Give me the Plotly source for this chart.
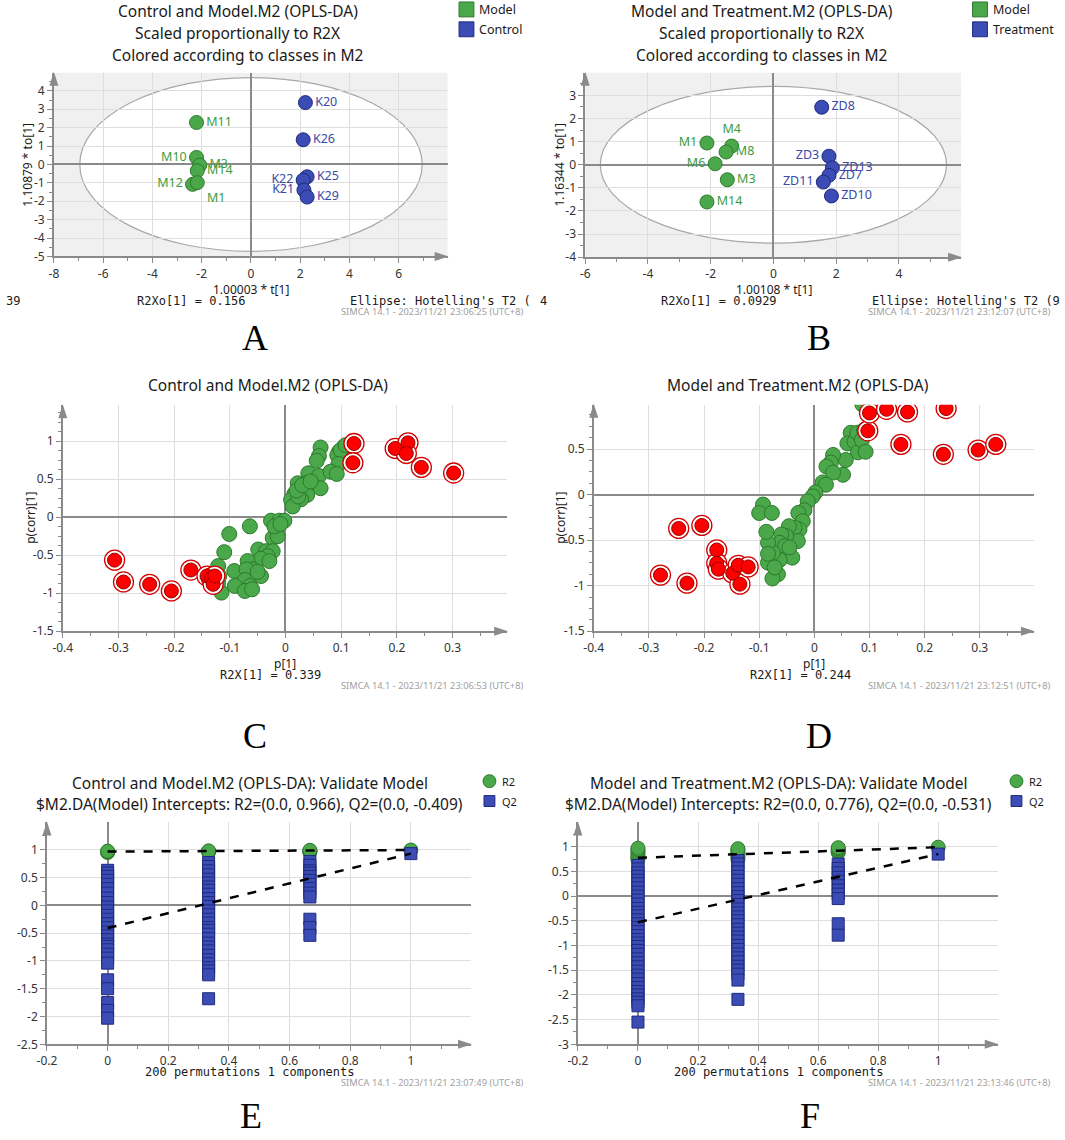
import plotly.graph_objects as go

W, H = 1065, 1140

# ---------------- data ----------------
a_model_names = ["M11", "M10", "M3", "M14", "M12", "M1"]
a_model_t = [-2.21, -2.21, -2.08, -2.18, -2.37, -2.18]
a_model_to = [2.28, 0.38, -0.04, -0.34, -1.08, -0.99]
a_control_names = ["K20", "K26", "K25", "K22", "K21", "K29"]
a_control_t = [2.21, 2.12, 2.28, 2.12, 2.15, 2.28]
a_control_to = [3.36, 1.34, -0.67, -0.85, -1.39, -1.77]
a_ellipse_t = 6.95
a_ellipse_to = 4.72

b_model_names = ["M1", "M4", "M8", "M6", "M3", "M14"]
b_model_t = [-2.12, -1.33, -1.51, -1.86, -1.47, -2.12]
b_model_to = [0.94, 0.81, 0.55, 0.04, -0.65, -1.61]
b_treat_names = ["ZD8", "ZD3", "ZD13", "ZD7", "ZD11", "ZD10"]
b_treat_t = [1.54, 1.77, 1.88, 1.77, 1.59, 1.85]
b_treat_to = [2.49, 0.37, -0.13, -0.46, -0.75, -1.35]
b_ellipse_t = 5.52
b_ellipse_to = 3.39

c_green_p = [0.063, 0.060, 0.056, 0.041, 0.060, 0.063, 0.036, 0.028, 0.022, 0.036,
             0.039, 0.028, 0.016, 0.010, 0.013, 0.023, 0.020, 0.105, 0.096, 0.093,
             0.099, 0.095, 0.081, 0.092, 0.108, -0.026, -0.011, -0.002, -0.017, -0.023,
             -0.014, -0.020, -0.064, -0.101, -0.110, -0.049, -0.035, -0.023, -0.032, -0.044,
             -0.029, -0.068, -0.058, -0.092, -0.121, -0.070, -0.044, -0.073, -0.064, -0.091,
             -0.073, -0.060, -0.115, -0.121, -0.119, -0.050, -0.009, 0.030, 0.045]
c_green_pcorr = [0.917, 0.804, 0.742, 0.577, 0.542, 0.381, 0.446, 0.403, 0.446, 0.359,
                 0.294, 0.237, 0.307, 0.229, 0.141, 0.272, 0.350, 0.925, 0.860, 0.817,
                 0.882, 0.699, 0.599, 0.569, 0.947, -0.046, -0.046, -0.046, -0.164, -0.273,
                 -0.251, -0.120, -0.120, -0.221, -0.460, -0.425, -0.447, -0.447, -0.512, -0.547,
                 -0.577, -0.577, -0.686, -0.708, -0.643, -0.686, -0.774, -0.826, -0.904, -0.904,
                 -0.970, -0.948, -0.992, -0.861, -0.774, -0.720, -0.090, 0.420, 0.470]
c_red_p = [-0.307, -0.291, -0.244, -0.205, -0.170, -0.141, -0.133, -0.130, -0.127,
           0.123, 0.121, 0.197, 0.220, 0.217, 0.244, 0.302]
c_red_pcorr = [-0.565, -0.852, -0.883, -0.970, -0.695, -0.774, -0.800, -0.883, -0.774,
               0.969, 0.716, 0.904, 0.978, 0.838, 0.655, 0.581]

d_green_p = [0.087, 0.066, 0.060, 0.073, 0.078, 0.090, 0.079, 0.057, 0.052, 0.034,
             0.030, 0.022, 0.034, 0.015, 0.021, 0.002, -0.003, -0.012, -0.018, -0.029,
             -0.021, -0.027, -0.036, -0.046, -0.030, -0.051, -0.060, -0.063, -0.053, -0.045,
             -0.040, -0.063, -0.075, -0.084, -0.087, -0.093, -0.100, -0.077, -0.084, -0.066,
             -0.076, -0.084, -0.045, -0.072, 0.086, 0.093]
d_green_pcorr = [0.990, 0.678, 0.562, 0.580, 0.678, 0.708, 0.464, 0.380, 0.217, 0.435,
                 0.351, 0.308, 0.242, 0.133, 0.108, 0.024, -0.020, -0.074, -0.172, -0.202,
                 -0.292, -0.383, -0.365, -0.347, -0.510, -0.456, -0.438, -0.529, -0.565, -0.674,
                 -0.692, -0.718, -0.638, -0.529, -0.409, -0.110, -0.202, -0.202, -0.747, -0.874,
                 -0.921, -0.650, -0.580, -0.800, 0.600, 0.470]
d_red_p = [-0.279, -0.246, -0.231, -0.204, -0.177, -0.177, -0.174, -0.148, -0.138, -0.135,
           -0.120, 0.097, 0.100, 0.131, 0.169, 0.239, 0.157, 0.234, 0.297, 0.329]
d_red_pcorr = [-0.884, -0.372, -0.972, -0.339, -0.608, -0.754, -0.819, -0.863, -0.776, -0.983,
               -0.794, 0.700, 0.896, 0.936, 0.907, 0.944, 0.551, 0.442, 0.489, 0.551]

perm_x = [0.0, 0.333, 0.667, 1.0]
e_r2_c0 = [0.95, 0.96, 0.975]
e_r2_c1 = [0.96, 0.97, 0.98]
e_r2_c2 = [0.96, 0.97, 0.98, 0.99]
e_r2_c3 = [0.995]
e_q2_c0 = [0.63, 0.58, 0.52, 0.45, 0.38, 0.30, 0.22, 0.13, 0.05, -0.03, -0.10, -0.18,
           -0.25, -0.33, -0.40, -0.48, -0.55, -0.62, -0.70, -0.74, -0.80, -0.88, -0.95,
           -1.04, -1.34, -1.50, -1.75, -1.89, -2.03]
e_q2_c1 = [0.77, 0.70, 0.62, 0.55, 0.47, 0.40, 0.33, 0.27, 0.20, 0.12, 0.05, -0.02,
           -0.10, -0.17, -0.25, -0.32, -0.40, -0.45, -0.52, -0.60, -0.68, -0.75, -0.82,
           -0.90, -0.98, -1.05, -1.12, -1.18, -1.25, -1.68]
e_q2_c2 = [0.79, 0.72, 0.62, 0.58, 0.52, 0.45, 0.38, 0.30, 0.22, 0.15, -0.25, -0.40, -0.54]
e_q2_c3 = [0.93]
e_r2_intercept = 0.966
e_q2_intercept = -0.409

f_r2_c0 = [0.74, 0.77, 0.81, 0.86, 0.90, 0.94, 0.97]
f_r2_c1 = [0.75, 0.80, 0.85, 0.89, 0.93, 0.96]
f_r2_c2 = [0.88, 0.90, 0.93, 0.96, 0.98]
f_r2_c3 = [0.99]
f_q2_c0 = [0.62, 0.55, 0.47, 0.40, 0.32, 0.25, 0.17, 0.08, 0.00, -0.08, -0.16, -0.25,
           -0.33, -0.40, -0.48, -0.56, -0.64, -0.72, -0.80, -0.88, -0.95, -1.02, -1.10,
           -1.18, -1.27, -1.35, -1.43, -1.52, -1.60, -1.68, -1.77, -1.85, -1.93, -2.00,
           -2.08, -2.15, -2.22, -2.55]
f_q2_c1 = [0.72, 0.65, 0.57, 0.49, 0.40, 0.32, 0.24, 0.15, 0.07, -0.01, -0.09, -0.17,
           -0.26, -0.34, -0.42, -0.50, -0.58, -0.67, -0.75, -0.83, -0.91, -1.00, -1.08,
           -1.17, -1.25, -1.33, -1.42, -1.50, -1.58, -1.70, -2.09]
f_q2_c2 = [0.65, 0.56, 0.47, 0.38, 0.30, 0.21, 0.12, 0.04, -0.05, -0.56, -0.79]
f_q2_c3 = [0.85]
f_r2_intercept = 0.776
f_q2_intercept = -0.531

a_xticks = [-8, -6, -4, -2, 0, 2, 4, 6]
a_yticks = [-5, -4, -3, -2, -1, 0, 1, 2, 3, 4]
b_xticks = [-6, -4, -2, 0, 2, 4]
b_yticks = [-4, -3, -2, -1, 0, 1, 2, 3]
s_xticks = [-0.4, -0.3, -0.2, -0.1, 0, 0.1, 0.2, 0.3]
c_yticks = [-1.5, -1, -0.5, 0, 0.5, 1]
d_yticks = [-1.5, -1, -0.5, 0, 0.5]
p_xticks = [-0.2, 0, 0.2, 0.4, 0.6, 0.8, 1]
e_yticks = [-2.5, -2, -1.5, -1, -0.5, 0, 0.5, 1]
f_yticks = [-3, -2.5, -2, -1.5, -1, -0.5, 0, 0.5, 1]

# ---------------- style ----------------
FONT = "Noto Sans"
MONO = "DejaVu Sans Mono"
SERIF = "Liberation Serif"
AXC = "#8a8a8a"
GRID = "#dedede"
GREEN, GREEN_EDGE, GREEN_TXT = "#4aa84a", "#2d7a2d", "#3e9b3e"
BLUE, BLUE_EDGE, BLUE_TXT = "#3b4db4", "#1f2a7e", "#3b4aa6"
RED, RED_EDGE = "#ff0000", "#9a0000"


def px(x):
    return x / W


def py(y):
    return 1 - y / H


def dom_x(a, b):
    return [a / W, b / W]


def dom_y(top, bottom):
    return [1 - bottom / H, 1 - top / H]


def axis(domain, rng, tickvals, minor, anchor):
    return dict(
        domain=domain, range=rng, anchor=anchor,
        tickmode="array", tickvals=tickvals, ticktext=[f"{v:g}" for v in tickvals],
        showline=True, linecolor=AXC, linewidth=1.5,
        ticks="outside", ticklen=5, tickcolor=AXC, tickwidth=1,
        minor=dict(dtick=minor, tick0=0, ticklen=3, tickcolor=AXC, ticks="outside", showgrid=False),
        showgrid=True, gridcolor=GRID, gridwidth=1,
        zeroline=True, zerolinecolor=AXC, zerolinewidth=1.5,
        tickfont=dict(family=FONT, size=12, color="#333333"),
        fixedrange=True,
    )


PANELS = {
    "A": dict(x=(44.3, 441.7), y=(73.3, 258.3), xr=[-8, 7.98], yr=[-5, 4.98]),
    "B": dict(x=(580.7, 960.0), y=(73.3, 259.0), xr=[-6, 5.98], yr=[-4, 3.98]),
    "C": dict(x=(53.3, 501.8), y=(408.3, 635.7), xr=[-0.4, 0.398], yr=[-1.5, 1.47]),
    "D": dict(x=(589.3, 1033.5), y=(407.7, 635.7), xr=[-0.4, 0.398], yr=[-1.5, 0.985]),
    "E": dict(x=(37.3, 465.3), y=(828.3, 1051.7), xr=[-0.2, 1.198], yr=[-2.5, 1.49]),
    "F": dict(x=(573.3, 997.0), y=(828.3, 1051.7), xr=[-0.2, 1.198], yr=[-3, 1.49]),
}

fig = go.Figure()


def green_markers(size=14):
    return dict(size=size, color=GREEN, line=dict(color=GREEN_EDGE, width=1))


def blue_markers(size=14, symbol="circle"):
    return dict(size=size, color=BLUE, symbol=symbol, line=dict(color=BLUE_EDGE, width=1))


LBL = 12.5
fig.add_trace(go.Scatter(
    x=a_model_t, y=a_model_to, mode="markers+text", text=a_model_names,
    textposition=["middle right", "middle left", "middle right", "middle right", "middle left", "bottom right"],
    textfont=dict(family=FONT, size=LBL, color=GREEN_TXT),
    marker=green_markers(), xaxis="x", yaxis="y", hoverinfo="skip"))
fig.add_trace(go.Scatter(
    x=a_control_t, y=a_control_to, mode="markers+text", text=a_control_names,
    textposition=["middle right", "middle right", "middle right", "middle left", "middle left", "middle right"],
    textfont=dict(family=FONT, size=LBL, color=BLUE_TXT),
    marker=blue_markers(), xaxis="x", yaxis="y", hoverinfo="skip"))

fig.add_trace(go.Scatter(
    x=b_model_t, y=b_model_to, mode="markers+text", text=b_model_names,
    textposition=["middle left", "top center", "middle right", "middle left", "middle right", "middle right"],
    textfont=dict(family=FONT, size=LBL, color=GREEN_TXT),
    marker=green_markers(), xaxis="x2", yaxis="y2", hoverinfo="skip"))
fig.add_trace(go.Scatter(
    x=b_treat_t, y=b_treat_to, mode="markers+text", text=b_treat_names,
    textposition=["middle right", "middle left", "middle right", "middle right", "middle left", "middle right"],
    textfont=dict(family=FONT, size=LBL, color=BLUE_TXT),
    marker=blue_markers(), xaxis="x2", yaxis="y2", hoverinfo="skip"))

for gx, gy, rx, ry, xa, ya in [(c_green_p, c_green_pcorr, c_red_p, c_red_pcorr, "x3", "y3"),
                               (d_green_p, d_green_pcorr, d_red_p, d_red_pcorr, "x4", "y4")]:
    fig.add_trace(go.Scatter(x=gx, y=gy, mode="markers", marker=green_markers(15),
                             xaxis=xa, yaxis=ya, hoverinfo="skip"))
    fig.add_trace(go.Scatter(x=rx, y=ry, mode="markers",
                             marker=dict(size=20, color="white", line=dict(color="#d40000", width=1.3)),
                             xaxis=xa, yaxis=ya, hoverinfo="skip"))
    fig.add_trace(go.Scatter(x=rx, y=ry, mode="markers",
                             marker=dict(size=14, color=RED, line=dict(color=RED_EDGE, width=1)),
                             xaxis=xa, yaxis=ya, hoverinfo="skip"))

for r2cols, q2cols, r2i, q2i, xa, ya in [
        ([e_r2_c0, e_r2_c1, e_r2_c2, e_r2_c3], [e_q2_c0, e_q2_c1, e_q2_c2, e_q2_c3],
         e_r2_intercept, e_q2_intercept, "x5", "y5"),
        ([f_r2_c0, f_r2_c1, f_r2_c2, f_r2_c3], [f_q2_c0, f_q2_c1, f_q2_c2, f_q2_c3],
         f_r2_intercept, f_q2_intercept, "x6", "y6")]:
    r2x, r2y, q2x, q2y = [], [], [], []
    for xv, col in zip(perm_x, r2cols):
        r2x += [xv] * len(col)
        r2y += col
    for xv, col in zip(perm_x, q2cols):
        q2x += [xv] * len(col)
        q2y += col
    fig.add_trace(go.Scatter(x=r2x, y=r2y, mode="markers", marker=green_markers(14),
                             xaxis=xa, yaxis=ya, hoverinfo="skip"))
    fig.add_trace(go.Scatter(x=q2x, y=q2y, mode="markers", marker=blue_markers(12, "square"),
                             xaxis=xa, yaxis=ya, hoverinfo="skip"))
    fig.add_trace(go.Scatter(x=[perm_x[0], perm_x[-1]], y=[r2i, r2cols[-1][0]], mode="lines",
                             line=dict(color="black", width=2.5, dash="dash"),
                             xaxis=xa, yaxis=ya, hoverinfo="skip"))
    fig.add_trace(go.Scatter(x=[perm_x[0], perm_x[-1]], y=[q2i, q2cols[-1][0]], mode="lines",
                             line=dict(color="black", width=2.5, dash="dash"),
                             xaxis=xa, yaxis=ya, hoverinfo="skip"))

layout = dict(width=W, height=H, margin=dict(l=0, r=0, t=0, b=0), showlegend=False,
              paper_bgcolor="white", plot_bgcolor="white")
minors = {"A": (1, 0.5), "B": (1, 0.5), "C": (0.05, 0.125), "D": (0.05, 0.125),
          "E": (0.1, 0.25), "F": (0.1, 0.25)}
ticks = {"A": (a_xticks, a_yticks), "B": (b_xticks, b_yticks), "C": (s_xticks, c_yticks),
         "D": (s_xticks, d_yticks), "E": (p_xticks, e_yticks), "F": (p_xticks, f_yticks)}
for i, key in enumerate("ABCDEF"):
    p = PANELS[key]
    sfx = "" if i == 0 else str(i + 1)
    layout["xaxis" + sfx] = axis(dom_x(*p["x"]), p["xr"], ticks[key][0], minors[key][0], "y" + sfx)
    layout["yaxis" + sfx] = axis(dom_y(*p["y"]), p["yr"], ticks[key][1], minors[key][1], "x" + sfx)
fig.update_layout(**layout)

shapes = []
for sfx, et, eto in [("", a_ellipse_t, a_ellipse_to), ("2", b_ellipse_t, b_ellipse_to)]:
    shapes.append(dict(type="rect", xref="x" + sfx + " domain", yref="y" + sfx + " domain",
                       x0=0, x1=1, y0=0, y1=1, fillcolor="#f0f0f0", line=dict(width=0), layer="below"))
    shapes.append(dict(type="circle", xref="x" + sfx, yref="y" + sfx, x0=-et, x1=et, y0=-eto, y1=eto,
                       fillcolor="white", line=dict(color="#a8a8a8", width=1.2), layer="below"))

for key in "ABCDEF":
    p = PANELS[key]
    xl, xr_ = p["x"]
    yt, yb = p["y"]
    tip = xr_ + 1
    shapes.append(dict(type="path", xref="paper", yref="paper", fillcolor=AXC, line=dict(width=0),
                       path=f"M {px(tip)},{py(yb)} L {px(tip - 14)},{py(yb - 4.5)} L {px(tip - 14)},{py(yb + 4.5)} Z"))
    top = yt - 1
    shapes.append(dict(type="path", xref="paper", yref="paper", fillcolor=AXC, line=dict(width=0),
                       path=f"M {px(xl)},{py(top)} L {px(xl - 4.5)},{py(top + 14)} L {px(xl + 4.5)},{py(top + 14)} Z"))

for lx in (453.3, 971.7):
    shapes.append(dict(type="rect", xref="paper", yref="paper", x0=px(lx), x1=px(lx + 15), y0=py(17), y1=py(2),
                       fillcolor=GREEN, line=dict(color=GREEN_EDGE, width=1)))
    shapes.append(dict(type="rect", xref="paper", yref="paper", x0=px(lx), x1=px(lx + 15), y0=py(37), y1=py(22),
                       fillcolor=BLUE, line=dict(color=BLUE_EDGE, width=1)))
for cx in (484.0, 1016.0):
    shapes.append(dict(type="circle", xref="paper", yref="paper", x0=px(cx - 6.5), x1=px(cx + 6.5),
                       y0=py(793.2), y1=py(780.2), fillcolor=GREEN, line=dict(color=GREEN_EDGE, width=1)))
    shapes.append(dict(type="rect", xref="paper", yref="paper", x0=px(cx - 5.5), x1=px(cx + 5.5),
                       y0=py(812.2), y1=py(801.2), fillcolor=BLUE, line=dict(color=BLUE_EDGE, width=1)))
fig.update_layout(shapes=shapes)


def txt(x, y, s, size=12, color="#1a1a1a", family=FONT, xanchor="center", angle=0):
    return dict(x=px(x), y=py(y), xref="paper", yref="paper", text=s, showarrow=False,
                xanchor=xanchor, yanchor="middle", textangle=angle,
                font=dict(family=family, size=size, color=color))


SIM = "#a0a0a0"
SIMS = 9.3
TS = 15.5
ann = [
    txt(230, 11, "Control and Model.M2 (OPLS-DA)", TS),
    txt(230, 33, "Scaled proportionally to R2X", TS),
    txt(230, 55, "Colored according to classes in M2", TS),
    txt(471, 10, "Model", 12.5, xanchor="left"),
    txt(471, 29.5, "Control", 12.5, xanchor="left"),
    txt(243, 291.5, "1.00003 * t[1]", 12),
    txt(18, 166, "1.10879 * to[1]", 12, angle=-90),
    txt(-6, 303, "39", 12, family=MONO, xanchor="left"),
    txt(126, 303, "R2Xo[1] = 0.156", 12, family=MONO, xanchor="left"),
    txt(341, 303, "Ellipse: Hotelling's T2 (", 12, family=MONO, xanchor="left"),
    txt(520, 313.5, "SIMCA 14.1 - 2023/11/21 23:06:25 (UTC+8)", SIMS, SIM, xanchor="right"),
    txt(247, 340, "A", 36, "#000000", SERIF),
    txt(759, 11, "Model and Treatment.M2 (OPLS-DA)", TS),
    txt(759, 33, "Scaled proportionally to R2X", TS),
    txt(759, 55, "Colored according to classes in M2", TS),
    txt(990, 10, "Model", 12.5, xanchor="left"),
    txt(990, 29.5, "Treatment", 12.5, xanchor="left"),
    txt(771, 291.5, "1.00108 * t[1]", 12),
    txt(555, 166, "1.16344 * to[1]", 12, angle=-90),
    txt(533, 303, "4", 12, family=MONO, xanchor="left"),
    txt(655, 303, "R2Xo[1] = 0.0929", 12, family=MONO, xanchor="left"),
    txt(868, 303, "Ellipse: Hotelling's T2 (9", 12, family=MONO, xanchor="left"),
    txt(1052, 313.5, "SIMCA 14.1 - 2023/11/21 23:12:07 (UTC+8)", SIMS, SIM, xanchor="right"),
    txt(817, 340, "B", 36, "#000000", SERIF),
    txt(260, 388, "Control and Model.M2 (OPLS-DA)", TS),
    txt(278, 668, "p[1]", 12),
    txt(20, 521.7, "p(corr)[1]", 12, angle=-90),
    txt(210, 680, "R2X[1] = 0.339", 12, family=MONO, xanchor="left"),
    txt(520, 690, "SIMCA 14.1 - 2023/11/21 23:06:53 (UTC+8)", SIMS, SIM, xanchor="right"),
    txt(247, 741, "C", 36, "#000000", SERIF),
    txt(795, 388, "Model and Treatment.M2 (OPLS-DA)", TS),
    txt(811.7, 668, "p[1]", 12),
    txt(555, 521.7, "p(corr)[1]", 12, angle=-90),
    txt(745, 680, "R2X[1] = 0.244", 12, family=MONO, xanchor="left"),
    txt(1052, 690, "SIMCA 14.1 - 2023/11/21 23:12:51 (UTC+8)", SIMS, SIM, xanchor="right"),
    txt(817, 741, "D", 36, "#000000", SERIF),
    txt(242, 788.3, "Control and Model.M2 (OPLS-DA): Validate Model", TS),
    txt(242, 810, "$M2.DA(Model) Intercepts: R2=(0.0, 0.966), Q2=(0.0, -0.409)", TS),
    txt(495, 786.7, "R2", 11, xanchor="left"),
    txt(495, 806.7, "Q2", 11, xanchor="left"),
    txt(242, 1080, "200 permutations 1 components", 12, family=MONO),
    txt(520, 1090, "SIMCA 14.1 - 2023/11/21 23:07:49 (UTC+8)", SIMS, SIM, xanchor="right"),
    txt(243, 1124, "E", 36, "#000000", SERIF),
    txt(776, 788.3, "Model and Treatment.M2 (OPLS-DA): Validate Model", TS),
    txt(776, 810, "$M2.DA(Model) Intercepts: R2=(0.0, 0.776), Q2=(0.0, -0.531)", TS),
    txt(1027, 786.7, "R2", 11, xanchor="left"),
    txt(1027, 806.7, "Q2", 11, xanchor="left"),
    txt(776, 1080, "200 permutations 1 components", 12, family=MONO),
    txt(1052, 1090, "SIMCA 14.1 - 2023/11/21 23:13:46 (UTC+8)", SIMS, SIM, xanchor="right"),
    txt(808, 1124, "F", 36, "#000000", SERIF),
]
fig.update_layout(annotations=ann)

fig.write_html("out.html")
